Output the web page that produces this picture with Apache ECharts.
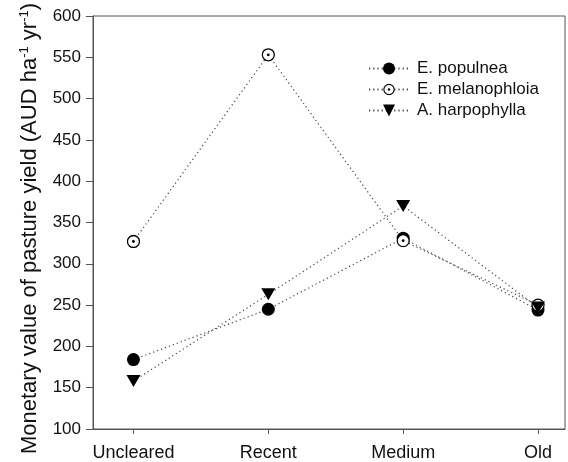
<!DOCTYPE html>
<html>
<head>
<meta charset="utf-8">
<script src="https://cdn.jsdelivr.net/npm/echarts@6/dist/echarts.min.js"></script>
<style>
  html, body { margin: 0; padding: 0; background: #fff; }
  #chart { width: 568px; height: 462px; }
</style>
</head>
<body>
<div id="chart"></div>
<script>
const categories = ['Uncleared', 'Recent', 'Medium', 'Old'];
const populnea = [184, 245, 331, 244];
const melanophloia = [327, 553, 328, 250];
const harpophylla = [158, 263, 370, 247];
const yTicks = { min: 100, max: 600, step: 50 };

// ring with centre dot, white inside so the dotted line stays hidden
const ringSvg = '<svg xmlns="http://www.w3.org/2000/svg" width="28" height="28" viewBox="0 0 28 28">' +
  '<circle cx="14" cy="14" r="12" fill="white" stroke="black" stroke-width="2.6"/>' +
  '<circle cx="14" cy="14" r="2.8" fill="black"/></svg>';
const ringSymbol = 'image://data:image/svg+xml;utf8,' + encodeURIComponent(ringSvg);

const font = 'Liberation Sans, Arial, sans-serif';
const toPairs = arr => arr.map((v, i) => [i, v]);
const dotted = { color: '#444', width: 1.2, type: [1.2, 3] };

const chart = echarts.init(document.getElementById('chart'));
chart.setOption({
  animation: false,
  textStyle: { fontFamily: font },
  grid: {
    left: 93, right: 3, top: 16, bottom: 32,
    show: true, borderColor: '#555', borderWidth: 1
  },
  legend: {
    orient: 'vertical',
    left: 363,
    top: 55,
    itemWidth: 40,
    itemHeight: 15,
    itemGap: 4,
    textStyle: { fontSize: 17, color: '#111', fontFamily: font, padding: [0, 0, 0, 3] },
    data: ['E. populnea', 'E. melanophloia', 'A. harpophylla']
  },
  xAxis: {
    type: 'value',
    min: -0.3,
    max: 3.2,
    axisLine: { onZero: false, lineStyle: { color: '#555' } },
    axisTick: { show: true, length: 5, customValues: [0, 1, 2, 3], lineStyle: { color: '#555' } },
    axisLabel: {
      customValues: [0, 1, 2, 3],
      formatter: v => categories[v],
      fontSize: 18, color: '#111', margin: 15
    },
    splitLine: { show: false }
  },
  yAxis: {
    type: 'value',
    min: yTicks.min,
    max: yTicks.max,
    interval: yTicks.step,
    name: 'Monetary value of pasture yield (AUD ha{sup|-1} yr{sup|-1})',
    nameLocation: 'middle',
    nameRotate: 90,
    nameGap: 52,
    nameTextStyle: {
      fontSize: 22, color: '#111', fontFamily: font,
      padding: [0, 12, 0, 0],
      rich: {
        sup: { fontSize: 13, verticalAlign: 'top', padding: [0, 0, 10, 0], color: '#111' }
      }
    },
    axisLine: { show: true, onZero: false, lineStyle: { color: '#555' } },
    axisTick: { show: true, length: 7, lineStyle: { color: '#555' } },
    axisLabel: { fontSize: 17, color: '#111', margin: 12 },
    splitLine: { show: false }
  },
  series: [
    {
      name: 'E. populnea',
      type: 'line',
      data: toPairs(populnea),
      symbol: 'circle',
      symbolSize: 13,
      itemStyle: { color: '#000' },
      lineStyle: dotted
    },
    {
      name: 'E. melanophloia',
      type: 'line',
      data: toPairs(melanophloia),
      symbol: ringSymbol,
      symbolSize: 14,
      itemStyle: { color: '#000' },
      lineStyle: dotted
    },
    {
      name: 'A. harpophylla',
      type: 'line',
      data: toPairs(harpophylla),
      symbol: 'triangle',
      symbolRotate: 180,
      symbolSize: [14, 12],
      itemStyle: { color: '#000' },
      lineStyle: dotted
    }
  ]
});
</script>
</body>
</html>
